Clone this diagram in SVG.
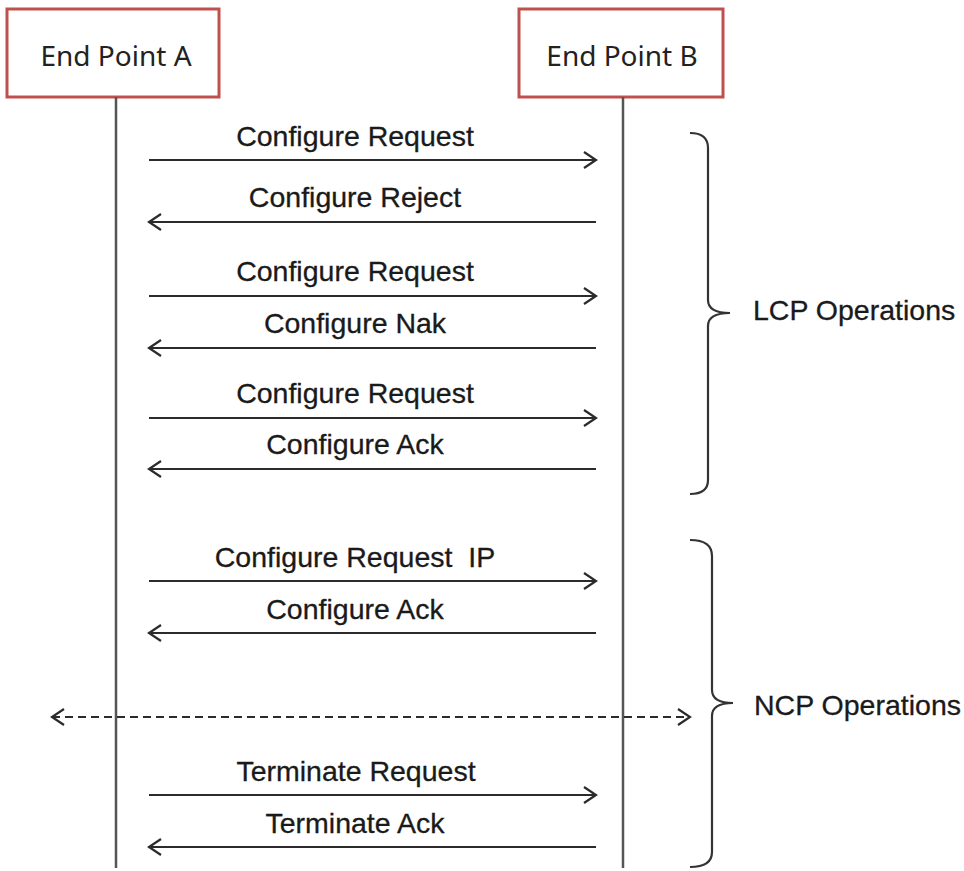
<svg xmlns="http://www.w3.org/2000/svg" width="964" height="871" viewBox="0 0 964 871">
<defs>
<marker id="chev" markerUnits="userSpaceOnUse" markerWidth="20" markerHeight="20" viewBox="0 0 20 20" refX="15" refY="10" orient="auto-start-reverse">
<path d="M3,2 L15,10 L3,18" fill="none" stroke="#2b2b2b" stroke-width="2.2"/>
</marker>
</defs>
<style>
.box{fill:#fff;stroke:#c0504d;stroke-width:3}
.bt{font-family:"Noto Sans","Open Sans",sans-serif;font-size:28px;fill:#222;text-anchor:middle}
.life{stroke:#555;stroke-width:2.5}
.msg{stroke:#2b2b2b;stroke-width:2.2;fill:none;marker-end:url(#chev)}
.dash{stroke:#2b2b2b;stroke-width:2.2;fill:none;stroke-dasharray:8 5;marker-start:url(#chev);marker-end:url(#chev)}
.lbl{font-family:"Liberation Sans",Arial,sans-serif;font-size:28.5px;fill:#1a1a1a;stroke:#1a1a1a;stroke-width:0.3;text-anchor:middle}
.side{font-family:"Liberation Sans",Arial,sans-serif;font-size:28.5px;fill:#1a1a1a;stroke:#1a1a1a;stroke-width:0.3}
.brace{stroke:#333;stroke-width:2.2;fill:none}
</style>
<g id="endpointA">
<rect class="box" x="7" y="9" width="212" height="88"/>
<text class="bt" x="116" y="66">End Point A</text>
<line class="life" x1="116" y1="97" x2="116" y2="868"/>
</g>
<g id="endpointB">
<rect class="box" x="519" y="9" width="204" height="88"/>
<text class="bt" x="622" y="66">End Point B</text>
<line class="life" x1="623" y1="97" x2="623" y2="868"/>
</g>
<g id="connectors">
<line class="msg" x1="149" y1="160" x2="596" y2="160"/>
<line class="msg" x1="596" y1="222" x2="149" y2="222"/>
<line class="msg" x1="149" y1="296" x2="596" y2="296"/>
<line class="msg" x1="596" y1="348" x2="149" y2="348"/>
<line class="msg" x1="149" y1="418" x2="596" y2="418"/>
<line class="msg" x1="596" y1="469" x2="149" y2="469"/>
<line class="msg" x1="149" y1="581" x2="596" y2="581"/>
<line class="msg" x1="596" y1="633" x2="149" y2="633"/>
<line class="dash" x1="52" y1="717" x2="690" y2="717"/>
<line class="msg" x1="149" y1="795" x2="596" y2="795"/>
<line class="msg" x1="596" y1="847" x2="149" y2="847"/>
</g>
<g id="labels">
<text class="lbl" x="355" y="146">Configure Request</text>
<text class="lbl" x="355" y="207">Configure Reject</text>
<text class="lbl" x="355" y="281">Configure Request</text>
<text class="lbl" x="355" y="333">Configure Nak</text>
<text class="lbl" x="355" y="403">Configure Request</text>
<text class="lbl" x="355" y="454">Configure Ack</text>
<text class="lbl" x="355" y="567" xml:space="preserve">Configure Request  IP</text>
<text class="lbl" x="355" y="619">Configure Ack</text>
<text class="lbl" x="356" y="781">Terminate Request</text>
<text class="lbl" x="355" y="833">Terminate Ack</text>
</g>
<g id="lcp">
<path class="brace" d="M690,133 Q708,133 708,148 L708,300 Q708,313 730,313 Q708,313 708,326 L708,480 Q708,494 690,494"/>
<text class="side" x="753" y="320">LCP Operations</text>
</g>
<g id="ncp">
<path class="brace" d="M690,540 Q712,540 712,556 L712,690 Q712,703 733,703 Q712,703 712,716 L712,852 Q712,867 690,867"/>
<text class="side" x="754" y="715">NCP Operations</text>
</g>
</svg>
